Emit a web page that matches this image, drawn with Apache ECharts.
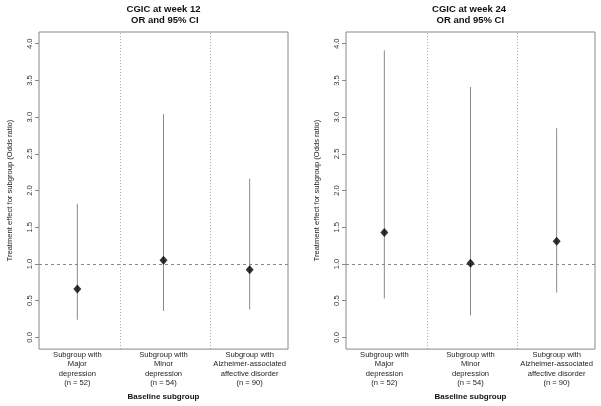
<!DOCTYPE html>
<html><head><meta charset="utf-8">
<script src="https://cdn.jsdelivr.net/npm/echarts@6/dist/echarts.min.js"></script>
<style>html,body{margin:0;padding:0;background:#fff}#c{width:601px;height:406px}</style>
</head><body><div id="c"></div>
<script>
var categories = [
  "Subgroup with\nMajor\ndepression\n(n = 52)",
  "Subgroup with\nMinor\ndepression\n(n = 54)",
  "Subgroup with\nAlzheimer-associated\naffective disorder\n(n = 90)"
];
var xPos = [1, 2, 3];
var dividers = [1.5, 2.54];
var or12 = [0.66, 1.05, 0.92];
var lo12 = [0.24, 0.36, 0.38];
var hi12 = [1.82, 3.04, 2.16];
var or24 = [1.43, 1.01, 1.31];
var lo24 = [0.53, 0.30, 0.61];
var hi24 = [3.91, 3.41, 2.85];
var yTicks = [0, 0.5, 1.0, 1.5, 2.0, 2.5, 3.0, 3.5, 4.0];
var refLine = 1;
var titles = [["CGIC at week 12", " OR and 95% CI"], ["CGIC at week 24", " OR and 95% CI"]];
var yName = "Treatment effect for subgroup (Odds ratio)";
var xName = "Baseline subgroup";

var FONT = "Liberation Sans, Arial, sans-serif";
var chart = echarts.init(document.getElementById('c'), null, {renderer: 'canvas'});

var grids = [
  {left: 39, top: 32, width: 249, height: 320},
  {left: 346, top: 32, width: 249, height: 320}
];
var titleCenters = [163.5, 469];

function xAxisDef(gi) {
  return {
    type: 'value', gridIndex: gi, min: 0.555, max: 3.445,
    axisLine: {show: false}, axisTick: {show: false}, splitLine: {show: false},
    axisLabel: {
      customValues: xPos, margin: 1, color: '#222', fontSize: 7.6, fontFamily: FONT, lineHeight: 9.5,
      formatter: function (v) { return categories[xPos.indexOf(Math.round(v))] || ''; }
    },
    name: xName, nameLocation: 'middle', nameGap: 39,
    nameTextStyle: {fontSize: 8, fontWeight: 'bold', fontFamily: FONT, color: '#111'}
  };
}
function yAxisDef(gi) {
  return {
    type: 'value', gridIndex: gi, min: -0.16, max: 4.16,
    axisLine: {show: false}, splitLine: {show: false},
    axisTick: {show: true, customValues: yTicks, length: 4, lineStyle: {color: '#888'}},
    axisLabel: {
      customValues: yTicks, rotate: 90, margin: 5, color: '#333', fontSize: 7.6, fontFamily: FONT,
      formatter: function (v) { return v.toFixed(1); }
    },
    name: yName, nameLocation: 'middle', nameGap: 25, nameRotate: 90,
    nameTextStyle: {fontSize: 7.6, fontFamily: FONT, color: '#222'}
  };
}
function ciSeries(gi, lo, hi) {
  return {
    type: 'custom', xAxisIndex: gi, yAxisIndex: gi, silent: true, z: 2,
    data: xPos.map(function (x, i) { return [x, lo[i], hi[i]]; }),
    encode: {x: 0, y: [1, 2]},
    renderItem: function (params, api) {
      var a = api.coord([api.value(0), api.value(1)]);
      var b = api.coord([api.value(0), api.value(2)]);
      return {type: 'line', shape: {x1: a[0], y1: a[1], x2: b[0], y2: b[1]},
        style: {stroke: '#8a8a8a', lineWidth: 1}};
    }
  };
}
function pointSeries(gi, vals) {
  var md = [{yAxis: refLine, lineStyle: {type: [3, 3], color: '#888', width: 1}}];
  dividers.forEach(function (d) {
    md.push({xAxis: d, lineStyle: {type: [1, 2], color: '#aaa', width: 1}});
  });
  return {
    type: 'scatter', xAxisIndex: gi, yAxisIndex: gi, z: 5, silent: true,
    symbol: 'diamond', symbolSize: [8, 9], itemStyle: {color: '#000'},
    data: xPos.map(function (x, i) { return [x, vals[i]]; }),
    markLine: {silent: true, symbol: 'none', label: {show: false}, data: md, z: 1}
  };
}

var graphics = [];
titles.forEach(function (t, i) {
  graphics.push({type: 'text', x: titleCenters[i], y: 9.5, style: {text: t[0], textAlign: 'center', textVerticalAlign: 'middle',
    font: 'bold 9.5px ' + FONT, fill: '#111'}});
  graphics.push({type: 'text', x: titleCenters[i], y: 20.8, style: {text: t[1], textAlign: 'center', textVerticalAlign: 'middle',
    font: 'bold 9.5px ' + FONT, fill: '#111'}});
});

chart.setOption({
  animation: false,
  backgroundColor: '#fff',
  grid: grids.map(function (g) { return Object.assign({show: true, borderColor: '#888', borderWidth: 1, backgroundColor: 'transparent'}, g); }),
  xAxis: [xAxisDef(0), xAxisDef(1)],
  yAxis: [yAxisDef(0), yAxisDef(1)],
  graphic: graphics,
  series: [ciSeries(0, lo12, hi12), pointSeries(0, or12), ciSeries(1, lo24, hi24), pointSeries(1, or24)]
});
</script></body></html>
